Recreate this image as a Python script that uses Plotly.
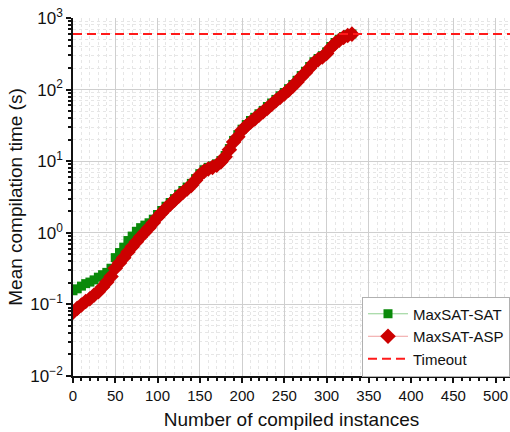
import plotly.graph_objects as go

# Instance counts (sorted by compile time) and mean compilation times in seconds
instances = list(range(0, 331, 5))

sat_times = [
    0.155, 0.165, 0.18, 0.195, 0.205, 0.22, 0.24, 0.26, 0.28, 0.32,
    0.45, 0.53, 0.63, 0.78, 0.90, 1.05, 1.18, 1.28, 1.38, 1.55,
    1.8, 2.05, 2.35, 2.65, 3.0, 3.45, 3.9, 4.35, 4.9, 5.7,
    6.7, 7.6, 8.2, 8.6, 9.2, 10.2, 12, 15, 19.5, 23.5,
    28, 32.5, 37, 41, 46, 51, 58, 65, 73, 82,
    91, 103, 118, 135, 157, 180, 210, 245, 272, 298,
    335, 400, 455, 505, 550, 585, 598,
]

asp_times = [
    0.078, 0.088, 0.098, 0.11, 0.12, 0.135, 0.15, 0.175, 0.205, 0.245,
    0.32, 0.38, 0.45, 0.54, 0.64, 0.75, 0.88, 1.02, 1.18, 1.38,
    1.65, 1.9, 2.2, 2.5, 2.85, 3.25, 3.65, 4.1, 4.6, 5.4,
    6.4, 7.2, 7.8, 8.2, 8.8, 9.8, 11.5, 14.5, 18.5, 22,
    27, 31, 35, 39, 44, 49, 55, 62, 70, 78,
    87, 98, 112, 128, 150, 172, 200, 235, 262, 285,
    320, 385, 440, 490, 535, 570, 595,
]

TIMEOUT = 600
X_MAX = 517

x_ticks = [0, 50, 100, 150, 200, 250, 300, 350, 400, 450, 500]
y_tickvals = [0.01, 0.1, 1, 10, 100, 1000]
y_ticktext = ["10<sup>−2</sup>", "10<sup>−1</sup>", "10<sup>0</sup>",
              "10<sup>1</sup>", "10<sup>2</sup>", "10<sup>3</sup>"]

FONT = "Liberation Sans, Arial, sans-serif"

fig = go.Figure()

fig.add_trace(go.Scatter(
    x=instances, y=sat_times, name="MaxSAT-SAT",
    mode="lines+markers",
    line=dict(color="#8fd08f", width=1),
    marker=dict(symbol="square", size=9, color="#0a8a0a",
                line=dict(width=0)),
))

fig.add_trace(go.Scatter(
    x=instances, y=asp_times, name="MaxSAT-ASP",
    mode="lines+markers",
    line=dict(color="#f0a0a0", width=1),
    marker=dict(symbol="diamond", size=12, color="#cc0000",
                line=dict(width=0)),
))

fig.add_trace(go.Scatter(
    x=[0, X_MAX], y=[TIMEOUT, TIMEOUT], name="Timeout",
    mode="lines",
    line=dict(color="#ff1a1a", width=2, dash="9px,5px"),
))

fig.update_layout(
    width=510, height=432,
    margin=dict(l=73, r=0, t=18, b=56),
    paper_bgcolor="white", plot_bgcolor="white",
    font=dict(family=FONT, color="#111", size=15),
    showlegend=True,
    legend=dict(
        x=1.0, y=0.222, xanchor="right", yanchor="top",
        bgcolor="white", bordercolor="#b0b0b0", borderwidth=1,
        font=dict(family=FONT, size=15, color="#111"),
        tracegroupgap=0, itemwidth=40,
    ),
)

fig.update_xaxes(
    range=[0, X_MAX],
    tickvals=x_ticks,
    ticks="outside", ticklen=5, tickwidth=1.5, tickcolor="#111",
    showline=True, linecolor="#111", linewidth=1.5,
    showgrid=True, gridcolor="#cfcfcf", gridwidth=1,
    minor=dict(dtick=10, tick0=0, ticks="outside", ticklen=3,
               tickcolor="#111", showgrid=True, gridcolor="#e6e6e6",
               griddash="dot"),
    tickfont=dict(size=15),
    title=dict(text="Number of compiled instances", font=dict(size=19),
               standoff=10),
    zeroline=False,
)

fig.update_yaxes(
    type="log", range=[-2, 3],
    tickvals=y_tickvals, ticktext=y_ticktext,
    ticks="outside", ticklen=5, tickwidth=1.5, tickcolor="#111",
    showline=True, linecolor="#111", linewidth=1.5,
    showgrid=True, gridcolor="#cfcfcf", gridwidth=1,
    minor=dict(dtick="D1", ticks="outside", ticklen=3, tickcolor="#111",
               showgrid=True, gridcolor="#e6e6e6", griddash="dot"),
    tickfont=dict(size=17),
    title=dict(text="Mean compilation time (s)", font=dict(size=19),
               standoff=3),
    zeroline=False,
)

fig.write_html("out.html")
